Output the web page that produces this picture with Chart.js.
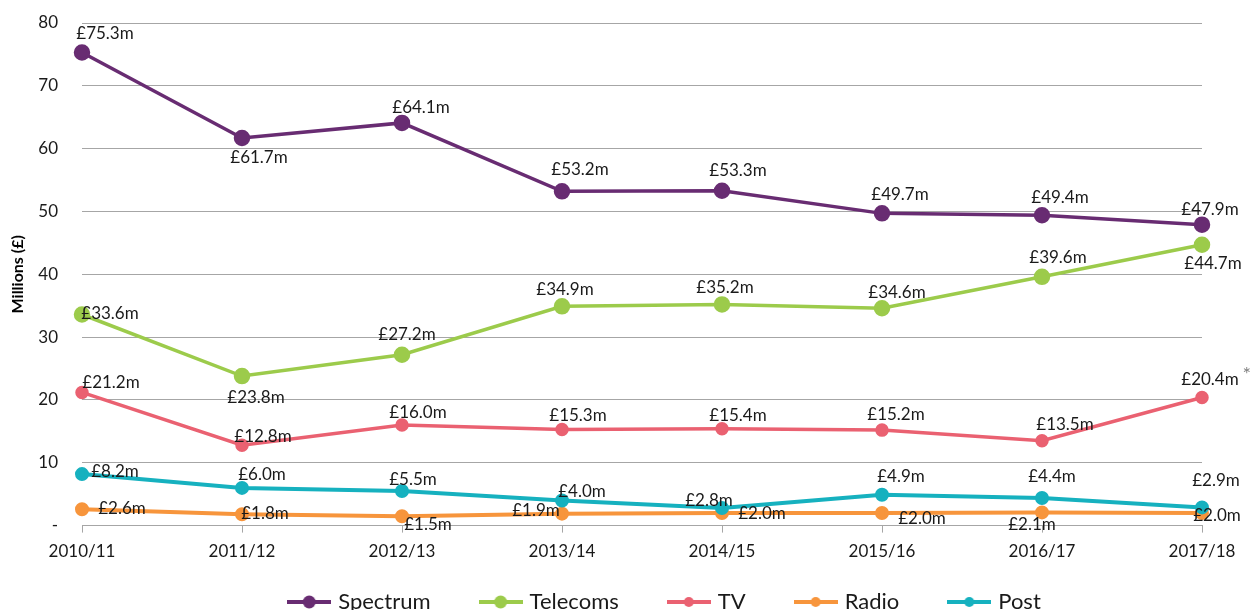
<!DOCTYPE html>
<html>
<head>
<meta charset="utf-8">
<script src="https://cdn.jsdelivr.net/npm/chart.js@4.4.1/dist/chart.umd.min.js"></script>
<style>
  html, body { margin: 0; padding: 0; background: #fff; }
  #wrap { width: 1250px; height: 610px; overflow: hidden; }
</style>
</head>
<body>
<div id="wrap"><canvas id="chart" width="1250" height="655"></canvas></div>
<script>
// years on the x axis
const years = ['2010/11', '2011/12', '2012/13', '2013/14', '2014/15', '2015/16', '2016/17', '2017/18'];

// values, £ millions
const spectrum = [75.3, 61.7, 64.1, 53.2, 53.3, 49.7, 49.4, 47.9];
const telecoms = [33.6, 23.8, 27.2, 34.9, 35.2, 34.6, 39.6, 44.7];
const tv = [21.2, 12.8, 16.0, 15.3, 15.4, 15.2, 13.5, 20.4];
const radio = [2.6, 1.8, 1.5, 1.9, 2.0, 2.0, 2.1, 2.0];
const post = [8.2, 6.0, 5.5, 4.0, 2.8, 4.9, 4.4, 2.9];

const yTicks = [0, 10, 20, 30, 40, 50, 60, 70, 80];

// where each value label sits, relative to its point [dx, dy]
const labelOffsets = [
    [[23, -19], [17, 20], [19, -15], [18, -22], [16, -20], [18, -19], [18, -18], [8, -15]],
    [[28, -1], [14, 21], [5, -20], [3, -17], [3, -17], [15, -16], [16, -19], [11, 19]],
    [[29, -10], [21, -9], [16, -13], [16, -14], [16, -13], [14, -16], [23, -16], [8, -18]],
    [[40, -1], [23, -1], [26, 8], [-26, -3], [40, 0], [40, 5], [-10, 12], [15, 2]],
    [[33, -3], [20, -13], [11, -12], [20, -9], [-13, -7], [19, -18], [10, -21], [14, -27]]
];

const FONT = 'Lato, "Liberation Sans", sans-serif';

function legendMark(color, r) {
    let c = document.createElement('canvas');
    c.width = 44;
    c.height = 16;
    let g = c.getContext('2d');
    g.strokeStyle = color;
    g.lineWidth = 4;
    g.beginPath();
    g.moveTo(0, 8);
    g.lineTo(44, 8);
    g.stroke();
    g.fillStyle = color;
    g.beginPath();
    g.arc(22, 8, r, 0, Math.PI * 2);
    g.fill();
    return c;
}

function series(label, data, color, radius, width, order) {
    return {
        label: label,
        data: data,
        borderColor: color,
        backgroundColor: color,
        pointBackgroundColor: color,
        pointBorderColor: color,
        pointRadius: radius,
        pointHoverRadius: radius,
        borderWidth: width,
        tension: 0,
        clip: false,
        order: order,
        mark: legendMark(color, radius)
    };
}

const valueLabels = {
    id: 'valueLabels',
    afterDatasetsDraw(chart) {
        let ctx = chart.ctx;
        ctx.save();
        ctx.font = '17px ' + FONT;
        ctx.fillStyle = '#1a1a1a';
        ctx.textAlign = 'center';
        ctx.textBaseline = 'middle';
        chart.data.datasets.forEach((ds, i) => {
            let meta = chart.getDatasetMeta(i);
            meta.data.forEach((pt, j) => {
                let off = labelOffsets[i][j];
                let text = '£' + ds.data[j].toFixed(1) + 'm';
                ctx.fillText(text, pt.x + off[0], pt.y + off[1]);
                if (i === 2 && j === ds.data.length - 1) {
                    // footnote marker on the last TV value
                    let w = ctx.measureText(text).width;
                    ctx.font = '20px ' + FONT;
                    ctx.fillStyle = '#808080';
                    ctx.fillText('*', pt.x + off[0] + w / 2 + 8, pt.y + off[1] - 5);
                    ctx.font = '17px ' + FONT;
                    ctx.fillStyle = '#1a1a1a';
                }
            });
        });
        ctx.restore();
    }
};

// Excel puts the legend a bit right of centre and low on the page
const legendPlace = {
    id: 'legendPlace',
    afterLayout(chart) {
        let lg = chart.legend;
        lg.left += 62;
        lg.right += 62;
        lg.top = 539;
    }
};

const data = {
    labels: years,
    datasets: [
        series('Spectrum', spectrum, '#682C72', 6.5, 3.5, 5),
        series('Telecoms', telecoms, '#9CCB4B', 6.5, 3.5, 4),
        series('TV', tv, '#EA6171', 5, 3.5, 3),
        series('Radio', radio, '#F7953C', 5, 4, 2),
        series('Post', post, '#16B1BF', 5, 4, 1)
    ]
};

const config = {
    type: 'line',
    data: data,
    plugins: [valueLabels, legendPlace],
    options: {
        responsive: false,
        animation: false,
        layout: { padding: { left: 6, right: 48, top: 23, bottom: 0 } },
        plugins: {
            tooltip: { enabled: false },
            legend: {
                position: 'bottom',
                labels: {
                    usePointStyle: true,
                    pointStyleWidth: 36,
                    padding: 52,
                    color: '#1a1a1a',
                    font: { family: FONT, size: 22 },
                    generateLabels(chart) {
                        let items = Chart.defaults.plugins.legend.labels.generateLabels(chart);
                        items.forEach(it => it.pointStyle = chart.data.datasets[it.datasetIndex].mark);
                        return items;
                    },
                    sort: (a, b) => a.datasetIndex - b.datasetIndex
                }
            }
        },
        scales: {
            x: {
                offset: false,
                grid: {
                    display: true,
                    drawOnChartArea: false,
                    drawTicks: true,
                    tickLength: 7,
                    color: '#A6A6A6'
                },
                border: { display: true, color: '#A6A6A6' },
                ticks: {
                    padding: 9,
                    color: '#1a1a1a',
                    font: { family: FONT, size: 17 },
                    maxRotation: 0,
                    autoSkip: false
                }
            },
            y: {
                min: yTicks[0],
                max: yTicks[yTicks.length - 1],
                afterFit: s => {
                    s.width = 76;
                    s.paddingTop = 0;
                    s.paddingBottom = 0;
                },
                afterBuildTicks: s => { s.ticks = yTicks.map(v => ({ value: v })); },
                grid: { color: '#A6A6A6', drawTicks: false },
                border: { display: false },
                ticks: {
                    padding: 24,
                    color: '#1a1a1a',
                    font: { family: FONT, size: 17 },
                    callback: v => v === 0 ? '-' : v
                },
                title: {
                    display: true,
                    text: 'Millions (£)',
                    color: '#000',
                    font: { family: FONT, size: 16, weight: 'bold' },
                    padding: { top: 2, bottom: 0 }
                }
            }
        }
    }
};

let ctx = document.getElementById('chart').getContext('2d');
new Chart(ctx, config);
</script>
</body>
</html>
